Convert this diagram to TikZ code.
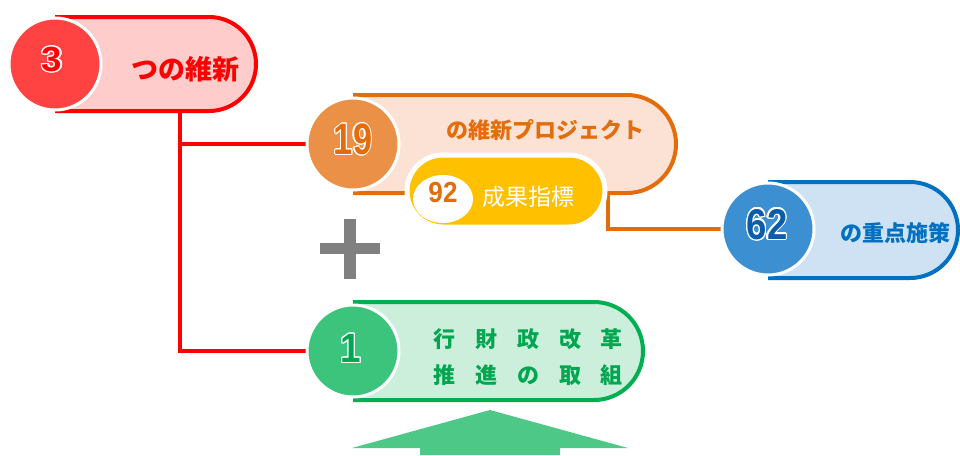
\documentclass[tikz,border=0pt]{standalone}
\usepackage{fontspec}
\usepackage[copies]{contour}
\setmainfont{Liberation Sans}
\newfontfamily\cjk{Noto Sans CJK JP}
\usetikzlibrary{shapes.misc}
\definecolor{cred}{HTML}{FF0000}
\definecolor{credfill}{HTML}{FFCCCC}
\definecolor{credcirc}{HTML}{FF4343}
\definecolor{cor}{HTML}{E46C0A}
\definecolor{corfill}{HTML}{FBE2D5}
\definecolor{corcirc}{HTML}{EA9047}
\definecolor{cyel}{HTML}{FFC000}
\definecolor{cblue}{HTML}{0070C0}
\definecolor{cbluefill}{HTML}{CFE2F3}
\definecolor{cbluecirc}{HTML}{3C8FD0}
\definecolor{cbluenum}{HTML}{0B5DAA}
\definecolor{cgr}{HTML}{00B050}
\definecolor{cgrfill}{HTML}{CCEFDB}
\definecolor{cgrcirc}{HTML}{3DC47C}
\definecolor{cgrtext}{HTML}{00A650}
\definecolor{carrow}{HTML}{4EC886}
\definecolor{cgray}{HTML}{808080}
\contourlength{1.3pt}
\tikzset{
  numcirc/.style={circle, draw=white, line width=3pt, minimum size=92pt, inner sep=0pt},
  numtext/.style={inner sep=0pt, font=\bfseries},
  jtext/.style={inner sep=0pt, font=\cjk\bfseries},
  conn/.style={line width=4pt},
}
\begin{document}
\begin{tikzpicture}[x=1pt,y=-1pt]
\useasboundingbox (0,0) rectangle (960,455);
% pill macro: fill and draw of rounded right end
\def\pill#1#2#3#4#5#6#7{% x0, ytop, ybot, xright, r, fill, draw
  \fill[#6] (#1,#2) -- ({#4-#5},#2) arc[start angle=-90,end angle=90,radius=#5] -- (#1,#3) -- cycle;
  \draw[#7, line width=4pt] (#1,#2) -- ({#4-#5},#2) arc[start angle=-90,end angle=90,radius=#5] -- (#1,#3);
}
% circles (nodes first to get names; drawn later on top)
\path (55,64) node[numcirc, fill=credcirc] (c3) {}
      (353,144) node[numcirc, fill=corcirc] (c19) {}
      (768,229) node[numcirc, fill=cbluecirc] (c62) {}
      (353,351) node[numcirc, fill=cgrcirc] (c1) {};
\coordinate (r3b) at (180,111);
\coordinate (o19b) at (608,193);
% connectors
\draw[conn, cred] (r3b) |- (c19.west);
\draw[conn, cred] (r3b) |- (c1.west);
\draw[conn, cor] (o19b) |- (c62.west);
% pills
\pill{55}{17}{111}{256}{47}{credfill}{cred}
\pill{353}{95}{193}{676}{49}{corfill}{cor}
\pill{768}{182}{278}{958}{48}{cbluefill}{cblue}
\pill{353}{302}{400}{643}{49}{cgrfill}{cgr}
% yellow pill
\node[rounded rectangle, fill=cyel, draw=white, line width=5pt, minimum width=198pt, minimum height=72pt, inner sep=0pt] (p92) at (506,191) {};
\fill[white] (443,199) ellipse[x radius=30, y radius=24];
% circles on top
\path (55,64) node[numcirc, fill=credcirc] {}
      (353,144) node[numcirc, fill=corcirc] {}
      (768,229) node[numcirc, fill=cbluecirc] {}
      (353,351) node[numcirc, fill=cgrcirc] {};
% plus
\fill[cgray] (320,243) rectangle (380,254);
\fill[cgray] (344,219) rectangle (356,279);
% arrow
\fill[carrow] (490,410) -- (628,448) -- (560,448) -- (560,455) -- (420,455) -- (420,448) -- (352,448) -- cycle;
% numbers
\node[numtext, font=\bfseries\fontsize{35}{35}\selectfont, text=cred] (n3) at (52,60) {\scalebox{1.05}[1]{\contour{white}{3}}};
\node[numtext, font=\bfseries\fontsize{44}{44}\selectfont, text=cor] (n19) at (353,140) {\scalebox{0.78}[1]{\contour{white}{19}}};
\node[numtext, font=\bfseries\fontsize{43}{43}\selectfont, text=cbluenum] (n62) at (767,225) {\scalebox{0.85}[1]{\contour{white}{62}}};
\node[numtext, font=\bfseries\fontsize{41}{41}\selectfont, text=cgrtext] (n1) at (351,349) {\scalebox{0.9}[1]{\contour{white}{1}}};
\node[numtext, font=\bfseries\fontsize{29}{29}\selectfont, text=cor] (n92) at (443,193) {\scalebox{0.9}[1]{92}};
% Japanese texts
\node[jtext, font=\cjk\bfseries\fontsize{27}{27}\selectfont, text=cred] (t3) at (185,69) {つの維新};
\node[jtext, font=\cjk\bfseries\fontsize{22}{22}\selectfont, text=cor] (t19) at (545,130) {の維新プロジェクト};
\node[inner sep=0pt, font=\cjk\fontsize{23}{23}\selectfont, text=white] (t92) at (528,197) {成果指標};
\node[jtext, font=\cjk\bfseries\fontsize{22}{22}\selectfont, text=cblue] (t62) at (895,233) {の重点施策};
\node[jtext, font=\cjk\bfseries\fontsize{22}{22}\selectfont, text=cgrtext] (t1a) at (528,339) {行\hspace{20pt}財\hspace{20pt}政\hspace{20pt}改\hspace{20pt}革};
\node[jtext, font=\cjk\bfseries\fontsize{22}{22}\selectfont, text=cgrtext] (t1b) at (528,375) {推\hspace{20pt}進\hspace{20pt}の\hspace{20pt}取\hspace{20pt}組};
\end{tikzpicture}
\end{document}
